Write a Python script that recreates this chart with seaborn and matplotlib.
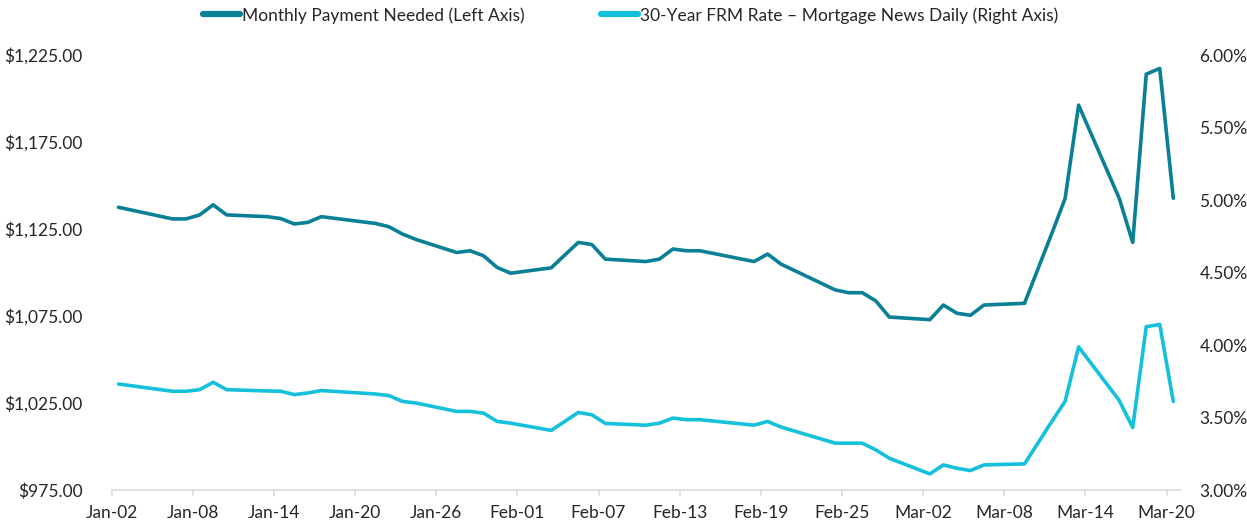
import pandas as pd
import matplotlib.pyplot as plt
import matplotlib.dates as mdates
from matplotlib.lines import Line2D
from matplotlib.ticker import FuncFormatter
import seaborn as sns

# business days with a quote
dates = ["2020-01-02", "2020-01-06", "2020-01-07", "2020-01-08", "2020-01-09", "2020-01-10",
         "2020-01-13", "2020-01-14", "2020-01-15", "2020-01-16", "2020-01-17",
         "2020-01-21", "2020-01-22", "2020-01-23", "2020-01-24",
         "2020-01-27", "2020-01-28", "2020-01-29", "2020-01-30", "2020-01-31",
         "2020-02-03", "2020-02-05", "2020-02-06", "2020-02-07",
         "2020-02-10", "2020-02-11", "2020-02-12", "2020-02-13", "2020-02-14",
         "2020-02-18", "2020-02-19", "2020-02-20",
         "2020-02-24", "2020-02-25", "2020-02-26", "2020-02-27", "2020-02-28",
         "2020-03-02", "2020-03-03", "2020-03-04", "2020-03-05", "2020-03-06",
         "2020-03-09", "2020-03-11", "2020-03-12", "2020-03-13",
         "2020-03-16", "2020-03-17", "2020-03-18", "2020-03-19", "2020-03-20"]

payment = [1137.5, 1130.8, 1130.8, 1133.1, 1138.9, 1133.1,
           1132.1, 1131.0, 1127.9, 1128.8, 1132.1,
           1128.2, 1126.3, 1122.1, 1119.0,
           1111.5, 1112.5, 1109.6, 1102.9, 1099.6,
           1102.7, 1117.3, 1116.1, 1107.7,
           1106.3, 1107.7, 1113.5, 1112.5, 1112.5,
           1106.3, 1110.6, 1104.8,
           1090.0, 1088.4, 1088.4, 1083.7, 1074.4,
           1072.9, 1081.3, 1076.6, 1075.4, 1081.3,
           1082.3, 1122.1, 1142.5, 1196.2,
           1142.7, 1117.3, 1214.0, 1217.3, 1142.7]

rate = [3.731, 3.681, 3.681, 3.692, 3.743, 3.692,
        3.683, 3.681, 3.658, 3.669, 3.686,
        3.662, 3.651, 3.611, 3.600,
        3.542, 3.542, 3.530, 3.473, 3.461,
        3.411, 3.535, 3.519, 3.459,
        3.447, 3.461, 3.496, 3.485, 3.485,
        3.447, 3.473, 3.434,
        3.323, 3.323, 3.323, 3.277, 3.219,
        3.111, 3.173, 3.150, 3.134, 3.173,
        3.180, 3.470, 3.611, 3.987,
        3.618, 3.431, 4.126, 4.142, 3.611]

pay_label = "Monthly Payment Needed (Left Axis)"
rate_label = "30-Year FRM Rate \u2013 Mortgage News Daily (Right Axis)"

DARK = "#0A8096"
LIGHT = "#14C0DB"
TEXT = "#262626"
AXIS = "#D9D9D9"

sns.set_theme(style="white")
plt.rcParams["font.family"] = ["Lato", "DejaVu Sans"]

# Excel centres each point inside its day slot
df = pd.DataFrame({"date": pd.to_datetime(dates) + pd.Timedelta(hours=12),
                   "payment": payment, "rate": rate})

fig = plt.figure(figsize=(12.47, 5.27), dpi=100)
ax = fig.add_axes([0.0896, 0.0702, 0.8567, 0.8254])
ax2 = ax.twinx()

sns.lineplot(data=df, x="date", y="payment", ax=ax, color=DARK, lw=2.6, legend=False)
sns.lineplot(data=df, x="date", y="rate", ax=ax2, color=LIGHT, lw=2.6, legend=False)

ax.set_xlim(pd.Timestamp("2020-01-02"), pd.Timestamp("2020-03-21"))
ax.set_xticks(pd.date_range("2020-01-02", "2020-03-20", freq="6D"))
ax.xaxis.set_major_formatter(mdates.DateFormatter("%b-%d"))

ax.set_ylim(975, 1225)
ax.set_yticks(range(975, 1226, 50))
ax.yaxis.set_major_formatter(FuncFormatter(lambda v, _: f"${v:,.2f}"))
ax2.set_ylim(3, 6)
ax2.set_yticks([3.0, 3.5, 4.0, 4.5, 5.0, 5.5, 6.0])
ax2.yaxis.set_major_formatter(FuncFormatter(lambda v, _: f"{v:.2f}%"))

for a in (ax, ax2):
    a.set_xlabel(""); a.set_ylabel("")
    for s in a.spines.values():
        s.set_visible(False)
ax.spines["bottom"].set_visible(True)
ax.spines["bottom"].set_color(AXIS)
ax.spines["bottom"].set_linewidth(1.2)

ax.tick_params(axis="x", bottom=True, length=4, width=1.2, color=AXIS,
               labelsize=12.5, labelcolor=TEXT, pad=7)
ax.tick_params(axis="y", left=False, labelsize=12.5, labelcolor=TEXT, pad=15)
ax2.tick_params(axis="y", right=False, labelsize=12.5, labelcolor=TEXT, pad=8)

handles = [Line2D([], [], color=DARK, lw=4.5), Line2D([], [], color=LIGHT, lw=4.5)]
fig.legend(handles, [pay_label, rate_label], loc="center", bbox_to_anchor=(0.506, 0.971),
           ncol=2, frameon=False, fontsize=12.5, handlelength=2.1, handletextpad=0.15,
           columnspacing=4.4, labelcolor=TEXT)

fig.savefig("out.png", dpi=100)
